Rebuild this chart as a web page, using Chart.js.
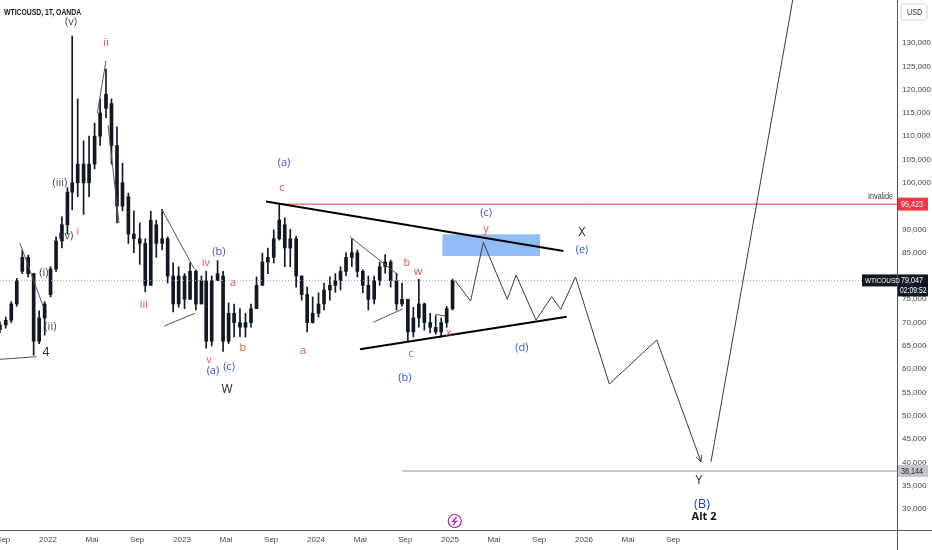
<!DOCTYPE html>
<html><head><meta charset="utf-8">
<script src="https://cdn.jsdelivr.net/npm/chart.js@4.4.1/dist/chart.umd.min.js"></script>
<style>html,body{margin:0;padding:0;background:#fff;overflow:hidden}canvas{display:block}</style>
</head><body>
<canvas id="c" width="932" height="550"></canvas>
<script>
// ---------- DATA ----------
const candleDates = ['2021-08-23','2021-09-08','2021-09-23','2021-10-08','2021-10-23','2021-11-08','2021-11-23','2021-12-08','2021-12-23',
'2022-01-08','2022-01-23','2022-02-08','2022-02-23','2022-03-08','2022-03-23','2022-04-08','2022-04-23','2022-05-08','2022-05-23','2022-06-08','2022-06-23',
'2022-07-08','2022-07-23','2022-08-08','2022-08-23','2022-09-08','2022-09-23','2022-10-08','2022-10-23','2022-11-08','2022-11-23','2022-12-08','2022-12-23',
'2023-01-08','2023-01-23','2023-02-08','2023-02-23','2023-03-08','2023-03-23','2023-04-08','2023-04-23','2023-05-08','2023-05-23','2023-06-08','2023-06-23',
'2023-07-08','2023-07-23','2023-08-08','2023-08-23','2023-09-08','2023-09-23','2023-10-08','2023-10-23','2023-11-08','2023-11-23','2023-12-08','2023-12-23',
'2024-01-08','2024-01-23','2024-02-08','2024-02-23','2024-03-08','2024-03-23','2024-04-08','2024-04-23','2024-05-08','2024-05-23','2024-06-08','2024-06-23',
'2024-07-08','2024-07-23','2024-08-08','2024-08-23','2024-09-08','2024-09-23','2024-10-08','2024-10-23','2024-11-08','2024-11-23','2024-12-08','2024-12-23',
'2025-01-08'];
const candleOpen  = [68.5,69.5,70.5,74.0,81.0,84.0,80.5,66.0,71.0, 76.0,81.5,87.5,91.0,98.0,100.0,104.0,100.0,104.0,110.0,116.0,117.0, 108.0,95.0,97.0,89.0,88.0,87.0,78.0,91.0,87.0,88.0,80.0,74.0, 80.0,75.0,81.0,74.0,79.0,66.0,79.0,80.0,66.0,72.0,70.0,69.0, 70.0,73.0,78.0,83.0,84.0,88.0,91.0,86.0,88.0,80.0,76.0,70.0, 72.0,74.0,77.0,78.0,79.0,81.0,84.0,85.0,81.0,78.0,75.0,79.0, 82.0,83.0,79.0,74.0,75.0,68.0,71.0,74.0,70.0,69.0,68.0,70.0, 73.0];
const candleHigh  = [70.2,71.2,74.5,79.5,85.6,84.5,80.6,72.5,74.5, 82.0,88.4,92.7,99.0,131.5,118.0,109.0,110.0,112.8,118.0,124.4,118.0, 112.0,104.2,97.8,94.0,91.4,88.0,93.9,92.0,94.3,88.4,82.8,82.0, 80.5,82.8,81.3,80.0,81.0,80.0,83.3,81.0,74.2,74.0,73.0,72.0, 74.0,79.8,84.9,86.0,89.9,95.6,92.5,90.0,88.5,80.0,77.6,75.5, 76.4,78.5,79.8,80.5,82.0,85.0,87.9,85.6,81.3,80.0,80.0,83.0, 84.6,83.4,80.6,78.5,75.0,73.3,79.3,74.2,72.0,71.5,71.0,73.5, 79.3];
const candleLow   = [67.8,68.8,70.0,73.5,80.5,79.8,63.0,65.5,67.3, 75.5,81.0,86.0,89.0,94.2,97.0,93.2,97.0,103.0,108.0,114.0,104.0, 91.4,94.0,87.0,85.0,82.5,76.6,78.0,84.0,85.6,78.5,72.3,73.3, 73.0,75.0,72.7,74.0,64.5,65.0,79.1,63.8,65.5,66.9,67.0,66.9, 69.0,73.0,78.0,80.5,82.8,87.7,82.0,82.0,77.6,74.8,68.0,69.9, 71.2,72.7,74.8,76.5,77.0,80.0,82.0,79.8,76.4,72.7,74.0,78.0, 80.6,77.6,72.7,73.5,65.9,66.9,69.0,68.4,67.8,67.5,66.9,69.0, 72.7];
const candleClose = [69.5,70.5,74.0,79.0,84.0,80.5,66.0,71.0,74.0, 81.5,87.5,91.0,98.0,100.0,104.0,100.0,104.0,110.0,115.0,119.0,108.0, 95.0,100.0,89.0,88.0,87.0,78.0,92.0,87.0,88.0,80.0,74.0,80.0, 75.0,81.0,74.0,79.0,66.0,79.0,80.5,66.0,72.0,70.0,69.0,70.0, 73.0,78.0,83.0,84.0,88.0,92.0,86.0,88.0,80.0,76.0,70.0,72.0, 74.0,77.0,78.0,79.0,81.0,84.0,85.0,81.0,78.0,75.0,79.0,82.0, 83.0,79.0,74.0,75.0,68.0,71.0,74.0,70.0,69.0,68.0,70.0,73.0, 79.047];

// projected wave path (decimal year, price)
const projX = [2025.037,2025.154,2025.249,2025.428,2025.493,2025.642,2025.759,2025.826,2025.937,2026.189,2026.543,2026.873];
const projY = [79.047,74.64,87.23,75.0,80.2,70.56,75.56,72.85,79.79,56.82,66.27,40.15];
const rallyX = [2026.948,2027.624];
const rallyY = [40.15,150.0];

// triangle trend lines
const upperTrendX = [2023.627,2025.847]; const upperTrendY = [95.99,85.36];
const lowerTrendX = [2024.328,2025.871]; const lowerTrendY = [64.27,71.27];

// thin wedge lines [x1,y1,x2,y2]
const thinLines = [
  [2021.642,62.12,2021.916,62.68],
  [2021.791,87.02,2021.965,73.41],
  [2022.368,114.92,2022.433,126.2],
  [2022.448,112.4,2022.530,91.37],
  [2022.849,94.31,2023.092,81.5],
  [2022.868,69.27,2023.097,71.99],
  [2024.254,88.43,2024.614,80.21],
  [2024.428,70.06,2024.647,72.92],
  [2024.893,71.78,2024.963,71.42]
];

// levels
const invalidLevel = 95.423, invalidStart = 2023.744;
const targetLevel = 38.144, targetStart = 2024.642;
const lastPrice = 79.047;
const zoneX = [2024.943,2025.672]; const zoneY = [84.29,88.95];

// wave labels
const labelText  = ['(v)','ii','(iii)','(iv)','i','(i)','(ii)','4','iii','iv','(b)','a','v','(a)','(c)','b','W','(a)','c','a','b','w','c','(b)','x','(c)','y','X','(e)','(d)','Y','(B)','Alt 2'];
const labelX     = [2022.172,2022.433,2022.089,2022.134,2022.224,2021.970,2022.018,2021.985,2022.716,2023.179,2023.276,2023.381,2023.201,2023.231,2023.351,2023.455,2023.336,2023.761,2023.746,2023.903,2024.679,2024.761,2024.709,2024.664,2024.99,2025.269,2025.269,2025.985,2025.985,2025.537,2026.858,2026.881,2026.896];
const labelY     = [134.5,130.0,99.96,88.58,89.44,80.6,69.06,63.48,73.78,82.79,85.15,78.5,61.97,59.61,60.47,64.55,55.54,104.25,98.88,63.91,82.79,80.86,63.26,58.11,67.77,93.52,90.09,89.23,85.58,64.55,36.01,31.07,28.28];
const labelRole  = ['g','r','g','g','r','g','g','k','r','r','b','r','r','b','b','r','k','b','r','r','r','r','r','b','r','b','r','k','b','b','k','B','K'];

// axis ticks
const xTickDates  = ['2021-09-01','2022-01-01','2022-05-01','2022-09-01','2023-01-01','2023-05-01','2023-09-01','2024-01-01','2024-05-01','2024-09-01','2025-01-01','2025-05-01','2025-09-01','2026-01-01','2026-05-01','2026-09-01'];
const xTickLabels = ['Sep','2022','Mai','Sep','2023','Mai','Sep','2024','Mai','Sep','2025','Mai','Sep','2026','Mai','Sep'];
const yTickValues = [30,35,40,45,50,55,60,65,70,75,85,90,100,105,110,115,120,125,130];

// ---------- HELPERS ----------
function toYear(s){const d=Date.UTC(+s.slice(0,4),+s.slice(5,7)-1,+s.slice(8,10));const y=+s.slice(0,4);const a=Date.UTC(y,0,1),b=Date.UTC(y+1,0,1);return y+(d-a)/(b-a);}
const fmt = v => v.toFixed(3).replace('.',',');
const X_MIN = 2021.642, X_MAX = 2028.336, Y_MIN = 25.49, Y_MAX = 139.23;
const FONT = '"Liberation Sans",Arial,sans-serif';
const LFONT = '"Open Sans","Liberation Sans",sans-serif';

const candleXs = candleDates.map(toYear);
const wicks = candleXs.map((x,i)=>({x, y:[candleLow[i],candleHigh[i]]}));
const bodies = candleXs.map((x,i)=>({x, y:[Math.min(candleOpen[i],candleClose[i]),Math.max(candleOpen[i],candleClose[i])]}));
const xy = (xs,ys)=>xs.map((x,i)=>({x,y:ys[i]}));

const lineDs = (data,color,width,extra)=>Object.assign({type:'line',data,borderColor:color,borderWidth:width,pointRadius:0,fill:false,tension:0,order:1},extra||{});

const datasets = [
  {type:'bar',data:bodies,backgroundColor:'#131722',barThickness:3,grouped:false,minBarLength:1,order:10},
  {type:'bar',data:wicks,backgroundColor:'#131722',barThickness:1,grouped:false,order:11},
  lineDs([{x:X_MIN,y:lastPrice},{x:X_MAX,y:lastPrice}],'#a3a5ab',1,{borderDash:[1,2],order:5}),
  lineDs([{x:invalidStart,y:invalidLevel},{x:X_MAX,y:invalidLevel}],'#f23645',1,{order:4}),
  lineDs([{x:targetStart,y:targetLevel},{x:X_MAX,y:targetLevel}],'#b8bac0',1.5,{order:4}),
  lineDs(xy(upperTrendX,upperTrendY),'#000',2),
  lineDs(xy(lowerTrendX,lowerTrendY),'#000',2),
  lineDs(xy(projX,projY),'#3a3a3a',1),
  lineDs(xy(rallyX,rallyY),'#3a3a3a',1),
  ...thinLines.map(l=>lineDs([{x:l[0],y:l[1]},{x:l[2],y:l[3]}],'#555',1,{order:3}))
];

const roleStyle = {
  r:{c:'#ef5350',f:'11px '+LFONT},
  b:{c:'#3b4fd6',f:'11px '+LFONT},
  g:{c:'#444',f:'11px '+LFONT},
  k:{c:'#222',f:'12px '+LFONT},
  B:{c:'#2b3fcf',f:'13px '+LFONT},
  K:{c:'#111',f:'bold 11px '+LFONT}
};

function rrect(ctx,x,y,w,h,r){ctx.beginPath();ctx.moveTo(x+r,y);ctx.arcTo(x+w,y,x+w,y+h,r);ctx.arcTo(x+w,y+h,x,y+h,r);ctx.arcTo(x,y+h,x,y,r);ctx.arcTo(x,y,x+w,y,r);ctx.closePath();}
function narrowText(ctx,t,x,y,sx){ctx.save();ctx.translate(x,y);ctx.scale(sx,1);ctx.fillText(t,0,0);ctx.restore();}

const overlay = {
  id:'overlay',
  beforeDatasetsDraw(chart){
    const {ctx,scales:{x,y}}=chart;
    ctx.save();
    ctx.fillStyle='rgba(70,145,240,0.6)';
    const x1=x.getPixelForValue(zoneX[0]),x2=x.getPixelForValue(zoneX[1]);
    const y1=y.getPixelForValue(zoneY[1]),y2=y.getPixelForValue(zoneY[0]);
    ctx.fillRect(x1,y1,x2-x1,y2-y1);
    ctx.restore();
  },
  afterDatasetsDraw(chart){
    const {ctx,chartArea:ca,scales:{x,y}}=chart;
    ctx.save();
    // arrowhead at end of projection
    const n=projX.length;
    const ax=x.getPixelForValue(projX[n-1]),ay=y.getPixelForValue(projY[n-1]);
    const bx=x.getPixelForValue(projX[n-2]),by=y.getPixelForValue(projY[n-2]);
    const ang=Math.atan2(ay-by,ax-bx);
    ctx.strokeStyle='#3a3a3a';ctx.lineWidth=1;ctx.beginPath();
    [0.45,-0.45].forEach(d=>{ctx.moveTo(ax,ay);ctx.lineTo(ax-7*Math.cos(ang+d),ay-7*Math.sin(ang+d));});
    ctx.stroke();
    // wave labels
    ctx.textAlign='center';ctx.textBaseline='middle';
    labelText.forEach((t,i)=>{const s=roleStyle[labelRole[i]];ctx.fillStyle=s.c;ctx.font=s.f;ctx.fillText(t,x.getPixelForValue(labelX[i]),y.getPixelForValue(labelY[i]));});
    // header
    ctx.textAlign='left';ctx.fillStyle='#131722';ctx.font='bold 9.5px '+FONT;
    narrowText(ctx,'WTICOUSD, 1T, OANDA',4,12,0.72);
    // 'Invalide' text
    ctx.textAlign='right';ctx.font='8.5px '+FONT;ctx.fillStyle='#333';
    narrowText(ctx,'Invalide',ca.right-4,y.getPixelForValue(invalidLevel)-7,0.85);
    // lightning icon
    const lx=x.getPixelForValue(toYear('2025-01-14')),ly=ca.bottom-9;
    ctx.strokeStyle='#9c27b0';ctx.lineWidth=1.2;ctx.beginPath();ctx.arc(lx,ly,6.5,0,Math.PI*2);ctx.stroke();
    ctx.beginPath();ctx.moveTo(lx+1.8,ly-4);ctx.lineTo(lx-2,ly+0.6);ctx.lineTo(lx+1.8,ly+0.2);ctx.lineTo(lx-1.8,ly+4.2);ctx.stroke();
    // frame lines
    ctx.strokeStyle='#50535e';ctx.lineWidth=1;ctx.beginPath();
    ctx.moveTo(ca.right+0.5,0);ctx.lineTo(ca.right+0.5,chart.height);
    ctx.moveTo(0,ca.bottom+0.5);ctx.lineTo(chart.width,ca.bottom+0.5);ctx.stroke();
    // price axis tags
    const R=ca.right, W=chart.width;
    ctx.font='8.5px '+FONT;ctx.textBaseline='middle';ctx.textAlign='left';
    // USD box
    ctx.strokeStyle='#d1d4dc';ctx.fillStyle='#fff';rrect(ctx,R+4,4,26,16,2);ctx.fill();ctx.stroke();
    ctx.fillStyle='#333';narrowText(ctx,'USD',R+10,12.5,0.85);
    // invalid level tag
    let py=y.getPixelForValue(invalidLevel);
    ctx.fillStyle='#f23645';ctx.fillRect(R+1,py-6.5,W-R-5,13);ctx.fillStyle='#fff';narrowText(ctx,fmt(invalidLevel),R+4,py+0.5,0.85);
    // target tag
    py=y.getPixelForValue(targetLevel);
    ctx.fillStyle='#c4c6cc';ctx.fillRect(R+1,py-6,W-R-5,12);ctx.fillStyle='#222';narrowText(ctx,fmt(targetLevel),R+4,py+0.5,0.85);
    // last price tag
    py=y.getPixelForValue(lastPrice);
    ctx.fillStyle='#131722';ctx.fillRect(R+1,py-6,W-R-5,22);ctx.fillRect(R-35,py-6,35,12);
    ctx.fillStyle='#fff';narrowText(ctx,fmt(lastPrice),R+4,py,0.85);narrowText(ctx,'02:09:52',R+3,py+10,0.8);
    ctx.font='8px '+FONT;narrowText(ctx,'WTICOUSD',R-32,py+0.5,0.8);
    ctx.restore();
  }
};

new Chart(document.getElementById('c'),{
  type:'bar',
  data:{datasets},
  options:{
    responsive:false,animation:false,devicePixelRatio:1,
    layout:{padding:0},
    plugins:{legend:{display:false},tooltip:{enabled:false}},
    scales:{
      x:{type:'linear',min:X_MIN,max:X_MAX,offset:false,bounds:'data',
        grid:{display:false,drawTicks:false},border:{display:false},
        ticks:{autoSkip:false,maxRotation:0,minRotation:0,padding:5,color:'#434651',font:{family:FONT,size:8},
          callback:(v,i)=>xTickLabels[i]},
        afterBuildTicks:a=>{a.ticks=xTickDates.map(d=>({value:toYear(d)}));},
        afterFit:a=>{a.height=20;a.paddingLeft=0;a.paddingRight=0;}
      },
      y:{type:'linear',position:'right',min:Y_MIN,max:Y_MAX,bounds:'data',
        grid:{display:false,drawTicks:false},border:{display:false},
        ticks:{padding:5,color:'#434651',font:{family:FONT,size:8},callback:v=>fmt(v)},
        afterBuildTicks:a=>{a.ticks=yTickValues.map(v=>({value:v}));},
        afterFit:a=>{a.width=35;a.paddingTop=0;a.paddingBottom=0;}
      }
    }
  },
  plugins:[overlay]
});
</script>
</body></html>
